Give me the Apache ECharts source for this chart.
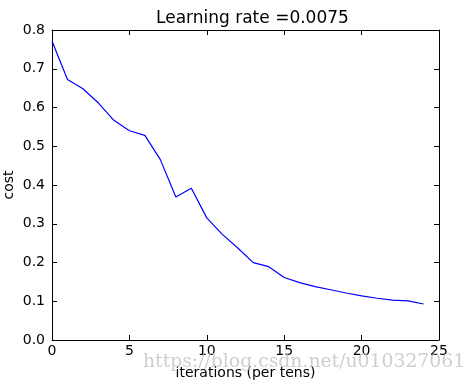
<!DOCTYPE html>
<html><head><meta charset="utf-8">
<script src="https://cdn.jsdelivr.net/npm/echarts@6/dist/echarts.min.js"></script>
<style>html,body{margin:0;padding:0;background:#fff}#c{width:476px;height:385px}</style>
</head><body><div id="c"></div>
<script>
const iterations = [0,1,2,3,4,5,6,7,8,9,10,11,12,13,14,15,16,17,18,19,20,21,22,23,24];
const costs = [0.7717,0.6721,0.6483,0.6115,0.5670,0.5401,0.5279,0.4655,0.3691,0.3917,0.3152,0.2727,0.2374,0.1996,0.1893,0.1612,0.1482,0.1378,0.1297,0.1212,0.1138,0.1078,0.1029,0.1009,0.0929];
const xTicks = [0,5,10,15,20,25];
const yTicks = [0.0,0.1,0.2,0.3,0.4,0.5,0.6,0.7,0.8];
const titleText = 'Learning rate =0.0075';
const xLabel = 'iterations (per tens)';
const yLabel = 'cost';
const watermark = 'https://blog.csdn.net/u010327061';

const font = 'DejaVu Sans';
const chart = echarts.init(document.getElementById('c'), null, {renderer:'canvas'});
const axisCommon = {
  axisLine:{show:true,onZero:false,lineStyle:{color:'#000',width:1}},
  axisTick:{show:true,inside:true,length:5,lineStyle:{color:'#000'}},
  splitLine:{show:false}
};
chart.setOption({
  animation:false,
  title:{text:titleText,left:151,top:5,textStyle:{fontFamily:font,fontSize:17,fontWeight:'normal',color:'#000'}},
  grid:{left:52,right:37,top:30,bottom:45,containLabel:false,outerBoundsMode:'none'},
  xAxis:[
    Object.assign({type:'value',min:xTicks[0],max:xTicks[xTicks.length-1],interval:5,position:'bottom',
      name:xLabel,nameLocation:'middle',nameGap:26,nameMoveOverlap:false,nameTextStyle:{fontFamily:font,fontSize:14,color:'#000'},
      axisLabel:{fontFamily:font,fontSize:14,color:'#000',margin:4}},axisCommon),
    Object.assign({type:'value',min:0,max:25,interval:5,position:'top',axisLabel:{show:false}},axisCommon)
  ],
  yAxis:[
    Object.assign({type:'value',min:yTicks[0],max:yTicks[yTicks.length-1],interval:0.1,position:'left',
      name:yLabel,nameLocation:'middle',nameGap:36,nameMoveOverlap:false,nameRotate:90,nameTextStyle:{fontFamily:font,fontSize:14,color:'#000'},
      axisLabel:{fontFamily:font,fontSize:14,color:'#000',margin:7,formatter:v=>v.toFixed(1)}},axisCommon),
    Object.assign({type:'value',min:0,max:0.8,interval:0.1,position:'right',axisLabel:{show:false}},axisCommon)
  ],
  graphic:[{type:'text',left:143,top:353,z:100,style:{text:watermark,fill:'rgba(190,190,190,0.75)',font:'18.8px "DejaVu Serif"'}}],
  series:[{type:'line',data:iterations.map((x,i)=>[x,costs[i]]),showSymbol:false,
    lineStyle:{color:'#0000ff',width:1.2},xAxisIndex:0,yAxisIndex:0}]
});
</script></body></html>
